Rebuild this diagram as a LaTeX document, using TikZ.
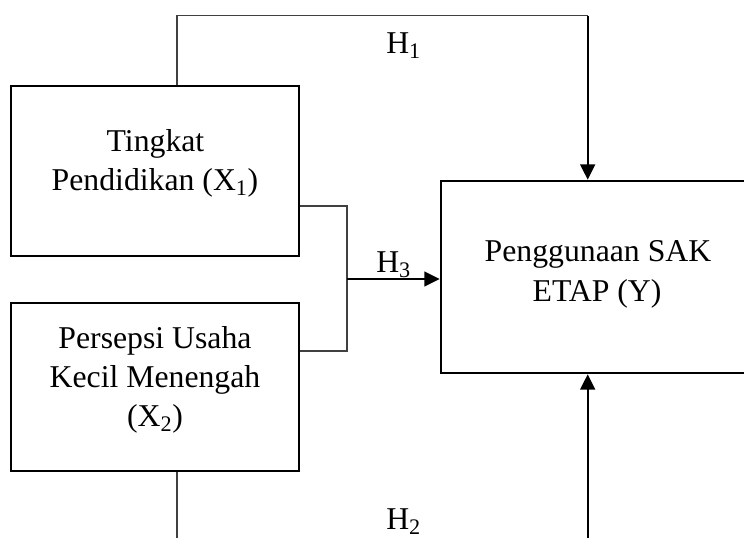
\documentclass[tikz,border=0pt]{standalone}
\usepackage{fontspec}
\setmainfont{Liberation Serif}
\usetikzlibrary{arrows.meta}
\begin{document}
\begin{tikzpicture}[x=0.75pt,y=-0.75pt,
  box/.style={draw,line width=1.9pt,inner sep=0pt},
  txt/.style={font=\fontsize{23.8}{29.5}\selectfont,anchor=base,inner sep=0pt},
  thinline/.style={line width=1pt,draw=black!75},
  arr/.style={line width=1.8pt,-{Triangle[length=11.5pt,width=11pt]}}]
\useasboundingbox (0,0) rectangle (744,538);
\clip (0,0) rectangle (744,538);
% boxes
\node[box,minimum width=216pt,minimum height=127.5pt] (X1) at (155,171) {};
\node[box,minimum width=216pt,minimum height=126pt] (X2) at (155,387) {};
\node[box,minimum width=235.5pt,minimum height=144pt] (Y) at (598,277) {};
% texts
\node[txt] (t1a) at (155.5,151.7) {Tingkat};
\node[txt] (t1b) at (155,191) {Pendidikan (X\textsubscript{1})};
\node[txt] (t2a) at (155,348.3) {Persepsi Usaha};
\node[txt] (t2b) at (155,387.7) {Kecil Menengah};
\node[txt] (t2c) at (155,426.7) {(X\textsubscript{2})};
\node[txt] (tya) at (598,261.7) {Penggunaan SAK};
\node[txt] (tyb) at (597,301.7) {ETAP (Y)};
% coordinates
\coordinate (a) at (177,15.7);
\coordinate (b) at (587.7,15.7);
\coordinate (c1) at (347,206);
\coordinate (c2) at (347,351);
\coordinate (j) at (347,279);
\coordinate (d) at (177,545);
\coordinate (e) at (587.7,545);
% H1
\draw[thinline] (X1.north -| a) -- (a) -- (b);
\draw[arr] (b) -- (b |- Y.north);
\node[txt,anchor=base west] (h1) at (386,53.3) {H\textsubscript{1}};
% H3
\draw[thinline] (c1 -| X1.east) -- (c1) -- (c2) -- (c2 -| X2.east);
\draw[arr] (j) -- (j -| Y.west);
\node[txt,anchor=base west] (h3) at (376,273) {H\textsubscript{3}};
% H2
\draw[thinline] (X2.south -| d) -- (d);
\draw[arr] (e) -- (e |- Y.south);
\node[txt,anchor=base west] (h2) at (386,529.5) {H\textsubscript{2}};
\end{tikzpicture}
\end{document}
